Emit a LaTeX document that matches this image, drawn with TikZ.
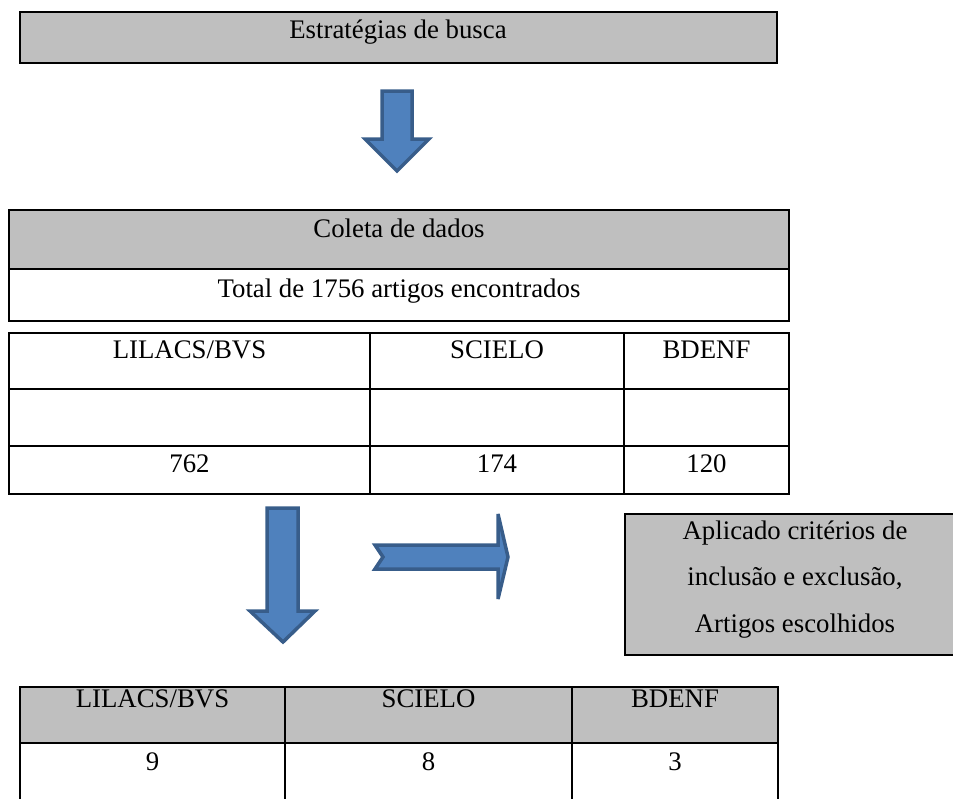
\documentclass[tikz,border=0pt]{standalone}
\usepackage{fontspec}
\setmainfont{Liberation Serif}
\definecolor{cellgray}{HTML}{BFBFBF}
\definecolor{arrowfill}{HTML}{4F81BD}
\definecolor{arrowline}{HTML}{385D8A}
\tikzset{
  cell/.style={draw=black, line width=1.6pt},
  graycell/.style={cell, fill=cellgray},
  txt/.style={anchor=base, inner sep=0pt, font=\fontsize{26.8}{30}\selectfont},
  blockarrow/.style={fill=arrowfill, draw=arrowline, line width=3.5pt, line join=miter, miter limit=3},
}
\begin{document}
\begin{tikzpicture}[x=1pt, y=-1pt]
\useasboundingbox (0,0) rectangle (953,798);
\clip (0,0) rectangle (953,798);
% top box
\draw[graycell] (20,12) rectangle (777,63);
\node[txt] (estr) at (398,38) {Estratégias de busca};
% arrow 1
\draw[blockarrow] (382,91) -- (412,91) -- (412,139) -- (429,139) -- (397,171) -- (365,139) -- (382,139) -- cycle;
% coleta table
\draw[graycell] (9,210) rectangle (789,269);
\draw[cell] (9,269) rectangle (789,321);
\node[txt] (coleta) at (399,237) {Coleta de dados};
\node[txt] (total) at (399,297) {Total de 1756 artigos encontrados};
% second table
\draw[cell] (9,333) rectangle (789,494);
\draw[cell] (9,389) -- (789,389);
\draw[cell] (9,446) -- (789,446);
\draw[cell] (370,333) -- (370,494);
\draw[cell] (624,333) -- (624,494);
\node[txt] (l1) at (189.5,358) {LILACS/BVS};
\node[txt] (s1) at (497,358) {SCIELO};
\node[txt] (b1) at (706.5,358) {BDENF};
\node[txt] (l2) at (189.5,472) {762};
\node[txt] (s2) at (497,472) {174};
\node[txt] (b2) at (706.5,472) {120};
% arrow 2 (down)
\draw[blockarrow] (267,508) -- (298,508) -- (298,611) -- (315,611) -- (283,642) -- (250,611) -- (267,611) -- cycle;
% arrow 3 (notched right)
\draw[blockarrow] (375,545) -- (498,545) -- (498,514) -- (508,557) -- (498,599) -- (498,569) -- (375,569) -- (383,557) -- cycle;
% criteria box
\draw[graycell] (625,514) rectangle (965,655);
\node[txt] (c1) at (795,539) {Aplicado critérios de};
\node[txt] (c2) at (795,585) {inclusão e exclusão,};
\node[txt] (c3) at (795,632) {Artigos escolhidos};
% bottom table
\draw[graycell] (20,687) rectangle (778,743);
\draw[cell] (20,743) rectangle (778,810);
\draw[cell] (285,687) -- (285,810);
\draw[cell] (572,687) -- (572,810);
\node[txt] (l3) at (152.5,707) {LILACS/BVS};
\node[txt] (s3) at (428.5,707) {SCIELO};
\node[txt] (b3) at (675,707) {BDENF};
\node[txt] (l4) at (152.5,770) {9};
\node[txt] (s4) at (428.5,770) {8};
\node[txt] (b4) at (675,770) {3};
\end{tikzpicture}
\end{document}
